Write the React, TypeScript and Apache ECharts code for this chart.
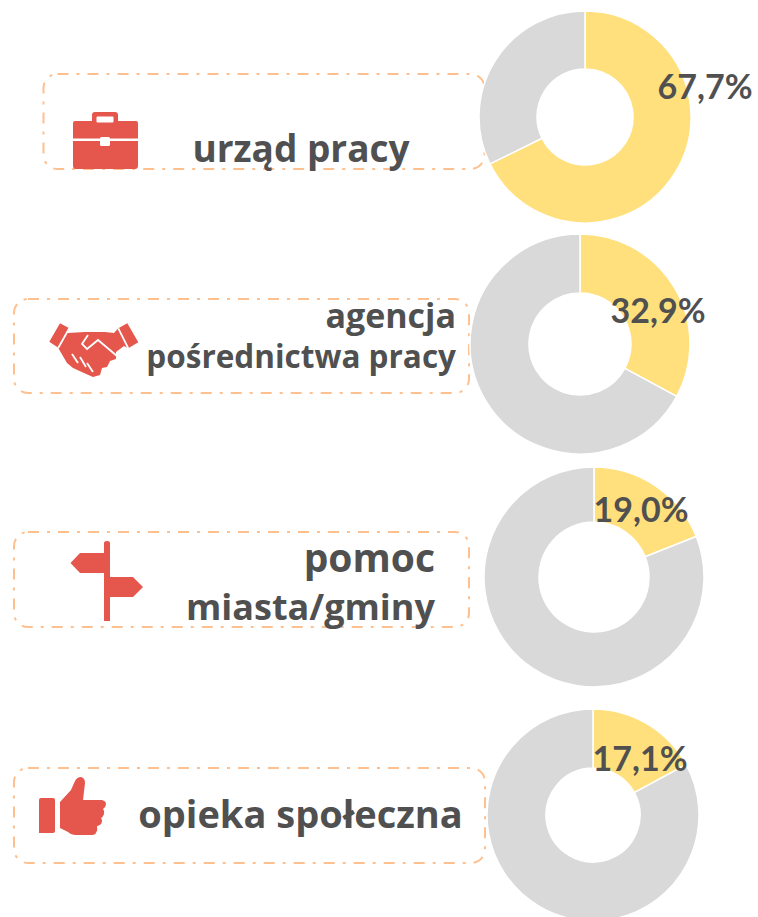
import React, { useEffect, useRef } from "react";
import * as echarts from "echarts";

const names = ["urząd pracy", "agencja pośrednictwa pracy", "pomoc miasta/gminy", "opieka społeczna"];
const shares = [67.7, 32.9, 19.0, 17.1];
const textLines = ["urząd pracy", "agencja", "pośrednictwa pracy", "pomoc", "miasta/gminy", "opieka społeczna"];

const pieCenters = [[585, 117], [580, 344], [594, 577], [593, 815]];
const pieRadii = [[48, 106], [51, 110], [55, 110], [47, 106]];
const labelSpots = [[705, 85], [658, 309], [641, 508], [640, 757]];
const boxes = [
  [43.5, 74, 441, 95],
  [14, 299, 455, 94],
  [14, 532, 455, 95],
  [14, 768, 471, 95],
];
const lineLayout = [
  { x: 301, y: 147.5, align: "center", size: 37 },
  { x: 456, y: 314.5, align: "right", size: 34 },
  { x: 456, y: 355.5, align: "right", size: 31.5 },
  { x: 435, y: 556, align: "right", size: 39 },
  { x: 435, y: 606, align: "right", size: 36 },
  { x: 300.5, y: 813, align: "center", size: 38 },
];

const YELLOW = "#FFE07C";
const GREY = "#D9D9D9";
const RED = "#E5574C";
const INK = "#505050";
const ORANGE = "#FFC08F";

const iconPaths: Record<string, string> = {
  iconCase:
    "M73 123Q73 121 75 121H92V115Q92 112 95 112H115Q118 112 118 115V121H136Q138 121 138 123V138.5H73ZM73 141H138V166Q138 169 135 169H76Q73 169 73 166Z",
  iconPost:
    "M104 543Q104 541 107 541Q110 541 110 543V577H133L143 587L133 597H110V621H104V573H80L70.5 563L80 553H104Z",
  iconCuff: "M39 800Q39 798 41 798H53Q55 798 55 800V831Q55 833 53 833H39Z",
  iconThumb:
    "M60 802L71 790L75 781Q77 777 81 777Q85 778 85 783L83 800H102Q106 801 106 804Q106 807 103 809Q105 811 104 814Q103 817 101 818Q103 821 101 824Q99 826 97 826Q98 830 96 833Q95 835 92 835H76Q71 835 68 832L60 828Z",
  iconHands:
    "M49.3 341.7L60 323.3L69.3 328.3L67.5 333L85 332H105L114 333L118.3 328.3L127.3 323.3L138.3 342.3L128.3 348.3L124 346L116 352L116 359L110 361L107 367L102 368L100 375L93 377L84 373L73 368L67 363L60 351L58.3 347.7Z",
};

function buildGraphics() {
  const els: any[] = boxes.map(([x, y, width, height]) => ({
    type: "rect",
    z: 0,
    shape: { x, y, width, height, r: 14 },
    style: { fill: "none", stroke: ORANGE, lineWidth: 2, lineDash: [11, 8, 3, 8] },
  }));
  Object.keys(iconPaths).forEach((k) => {
    els.push({ type: k, x: 0, y: 0, z: 3, style: { fill: RED } });
  });
  els.push({
    type: "rect", z: 4,
    shape: { x: 100, y: 137, width: 10, height: 9, r: 1.5 },
    style: { fill: "#fff" },
  });
  els.push({
    type: "rect", z: 4,
    shape: { x: 96.5, y: 116.5, width: 17, height: 6, r: 1 },
    style: { fill: "#fff" },
  });
  const whites = [
    [[69.3, 328.3], [58.3, 347.7]],
    [[118.3, 328.3], [128.3, 348.3]],
    [[88, 335], [82, 344], [87, 349], [98, 340], [117, 356]],
    [[72, 354], [78, 363]],
    [[80, 357], [86, 367]],
    [[87, 363], [93, 372]],
  ];
  whites.forEach((points) => {
    els.push({
      type: "polyline", z: 4,
      shape: { points },
      style: { fill: "none", stroke: "#fff", lineWidth: 1.8 },
    });
  });
  textLines.forEach((text, i) => {
    const l = lineLayout[i];
    els.push({
      type: "text", z: 5, x: l.x, y: l.y,
      style: {
        text, fill: INK, align: l.align, verticalAlign: "middle",
        font: `bold ${l.size}px "Open Sans"`,
      },
    });
  });
  return els;
}

export default function App() {
  const ref = useRef<HTMLDivElement>(null);
  useEffect(() => {
    Object.entries(iconPaths).forEach(([k, d]) => {
      echarts.graphic.registerShape(k, echarts.graphic.extendPath(d, {}));
    });
    const chart = echarts.init(ref.current!, null, { renderer: "svg" });
    chart.setOption({
      animation: false,
      backgroundColor: "#fff",
      graphic: { elements: buildGraphics() },
      series: shares.map((v, i) => ({
        type: "pie",
        name: names[i],
        center: pieCenters[i],
        radius: pieRadii[i],
        startAngle: 90,
        clockwise: true,
        avoidLabelOverlap: false,
        silent: true,
        itemStyle: { borderColor: "#fff", borderWidth: 1.5 },
        labelLine: { show: false },
        labelLayout: {
          x: labelSpots[i][0], y: labelSpots[i][1],
          align: "center", verticalAlign: "middle",
        },
        data: [
          {
            value: v, name: "tak",
            itemStyle: { color: YELLOW },
            label: {
              show: true, position: "inside",
              formatter: v.toFixed(1).replace(".", ",") + "%",
              color: INK, fontWeight: "bold", fontSize: 34, fontFamily: "Lato",
            },
          },
          {
            value: +(100 - v).toFixed(1), name: "nie",
            itemStyle: { color: GREY },
            label: { show: false },
          },
        ],
      })),
    });
    return () => chart.dispose();
  }, []);
  return <div ref={ref} style={{ position: "fixed", left: 0, top: 0, width: 758, height: 917 }} />;
}
